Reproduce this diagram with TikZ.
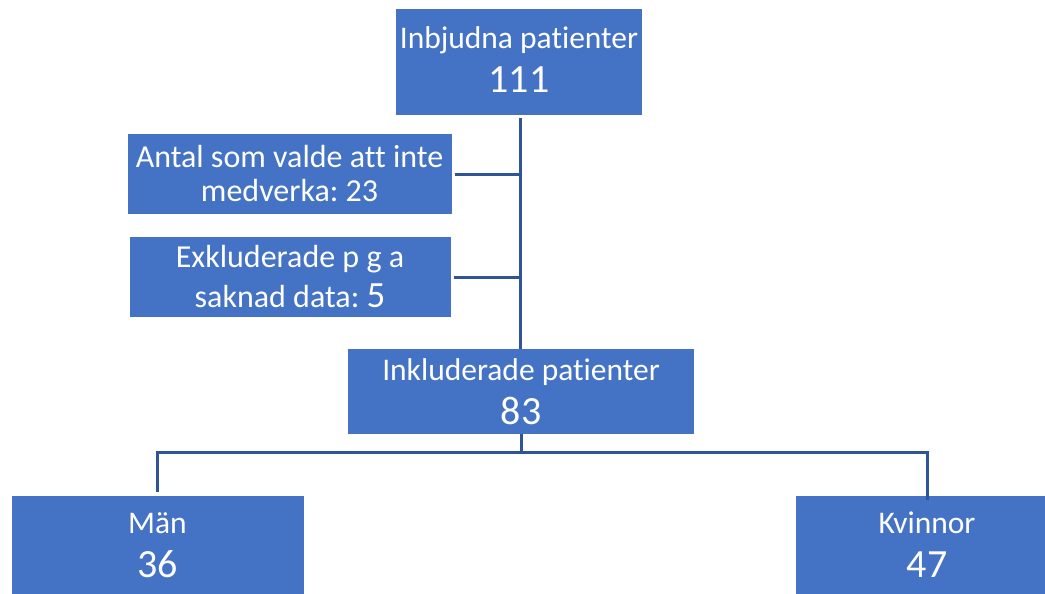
\documentclass[tikz,border=0pt]{standalone}
\usepackage{fontspec}
\setmainfont{Carlito}[Ligatures=NoCommon]
\frenchspacing
\definecolor{boxblue}{HTML}{4472C4}
\definecolor{lineblue}{HTML}{2F5597}
\newcommand{\bignum}[1]{{\fontsize{40}{44}\selectfont #1}}
\begin{document}
\begin{tikzpicture}[x=1pt,y=-1pt,
  box/.style={fill=boxblue,draw=none,text=white,inner sep=0pt,align=center},
  twoline/.style={font=\fontsize{31.5}{44}\selectfont},
  exline/.style={font=\fontsize{32}{#1}\selectfont},
  conn/.style={draw=lineblue,line width=3pt}]
\useasboundingbox (0,0) rectangle (1045,594);
% boxes
\node[box,twoline,text depth=4pt,minimum width=246pt,minimum height=106pt] (top) at (519,62)
  {Inbjudna patienter\\\bignum{111}};
\node[box,exline=34,minimum width=324pt,minimum height=80pt] (ex1) at (289.5,174)
  {Antal som valde att inte\\medverka: 23};
\node[box,exline=40,minimum width=321pt,minimum height=80pt] (ex2) at (290,277)
  {Exkluderade p g a\\saknad data: {\fontsize{37}{40}\selectfont 5}};
\node[box,twoline,minimum width=346pt,minimum height=85pt] (mid) at (521,391.5)
  {Inkluderade patienter\\\bignum{83}};
\node[box,twoline,minimum width=292pt,minimum height=98pt] (man) at (157.5,545)
  {Män\\\bignum{36}};
\node[box,twoline,minimum width=262pt,minimum height=98pt] (kv) at (927,545)
  {Kvinnor\\\bignum{47}};
% connectors
\coordinate (spine) at (520,0);
\coordinate (jb) at (521,452);
\draw[conn] (top.south -| spine) ++(0,3) -- (mid.north -| spine);
\draw[conn] (ex1.east) ++(3,0) -- (ex1.east -| spine);
\draw[conn] (ex2.east) ++(3,0) -- (ex2.east -| spine);
\draw[conn] (mid.south -| jb) -- (jb);
\draw[conn] (man.north) ++(0,-4) |- (jb) -| ([yshift=-4pt]kv.north);
\end{tikzpicture}
\end{document}
